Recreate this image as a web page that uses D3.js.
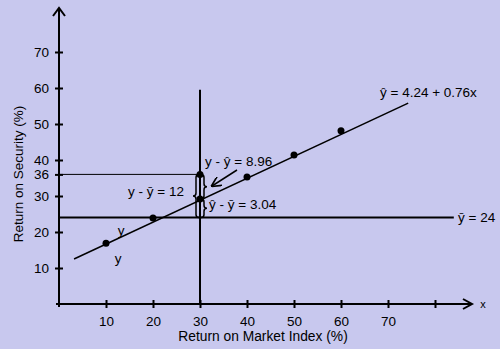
<!DOCTYPE html>
<html lang="en">
  <head>
    <meta charset="utf-8">
    <style type="text/css">
      body { margin: 0; }
      svg {
        background-color: #c8c8ee;
        font-family: "Liberation Sans", Arial, sans-serif;
      }
      path, line { fill: none; stroke: black; }
    </style>
  </head>
  <body>
    <script src="https://cdn.jsdelivr.net/npm/d3@7"></script>
    <svg id="chart"></svg>

    <script type="text/javascript">
// values
var xTicks = [10, 20, 30, 40, 50, 60, 70, 80];
var xTickLabels = ["10", "20", "30", "40", "50", "60", "70", ""];
var yTicks = [10, 20, 30, 36, 40, 50, 60, 70];
var marketX = [10, 20, 30, 40, 50, 60];
var fittedY = [16.9, 23.9, 29.2, 35.3, 41.4, 48.1];
var observedX = [30];
var observedY = [36];
var fitLineX = [3.2, 74.3];
var fitLineY = [12.5, 55.8];
var yMean = 24;
var meanLineX = [0, 84];
var focusX = 30;
var focusTop = 59.5;

var width = 500, height = 349;

var svg = d3.select("#chart")
  .attr("width", width)
  .attr("height", height);

var x = d3.scaleLinear().domain([0, 80]).range([59, 435]);
var y = d3.scaleLinear().domain([0, 70]).range([304, 52]);

// axes
var xAxis = d3.axisBottom(x)
  .tickValues(xTicks)
  .tickFormat(function(d, i) { return xTickLabels[i]; })
  .tickSize(4)
  .tickPadding(8);

var gx = svg.append("g")
  .attr("transform", "translate(0," + y(0) + ")")
  .call(xAxis);
gx.select(".domain").remove();
gx.selectAll(".tick line").attr("y1", -4).attr("stroke-width", 2);
gx.selectAll(".tick text").attr("font-size", 13.5).attr("font-family", "Liberation Sans, Arial, sans-serif");

var yAxis = d3.axisLeft(y)
  .tickValues(yTicks)
  .tickSize(4)
  .tickPadding(6);

var gy = svg.append("g")
  .attr("transform", "translate(" + x(0) + ",0)")
  .call(yAxis);
gy.select(".domain").remove();
gy.selectAll(".tick line").attr("x1", 4).attr("stroke-width", 2);
gy.selectAll(".tick text").attr("font-size", 13.5).attr("font-family", "Liberation Sans, Arial, sans-serif");

// axis lines with open arrow heads
svg.append("line")
  .attr("x1", x(0)).attr("y1", y(0) + 3)
  .attr("x2", x(0)).attr("y2", 8)
  .attr("stroke-width", 2);
svg.append("path")
  .attr("d", "M" + (x(0) - 6) + ",16L" + x(0) + ",8L" + (x(0) + 6) + ",16")
  .attr("stroke-width", 2);

svg.append("line")
  .attr("x1", x(0) - 3).attr("y1", y(0))
  .attr("x2", 472).attr("y2", y(0))
  .attr("stroke-width", 2);
svg.append("path")
  .attr("d", "M463," + (y(0) - 5) + "L472," + y(0) + "L463," + (y(0) + 5))
  .attr("stroke-width", 2);

svg.append("text")
  .attr("x", 483).attr("y", y(0) + 4)
  .attr("text-anchor", "middle")
  .attr("font-size", 11)
  .text("x");

// axis titles
svg.append("text")
  .attr("x", 263).attr("y", 341)
  .attr("text-anchor", "middle")
  .attr("font-size", 13.8)
  .text("Return on Market Index (%)");

svg.append("text")
  .attr("transform", "translate(23,174) rotate(-90)")
  .attr("text-anchor", "middle")
  .attr("font-size", 13.5)
  .text("Return on Security (%)");

// reference lines
svg.append("line")
  .attr("x1", x(focusX)).attr("y1", y(0))
  .attr("x2", x(focusX)).attr("y2", y(focusTop))
  .attr("stroke-width", 2);

svg.append("line")
  .attr("x1", x(meanLineX[0])).attr("y1", y(yMean))
  .attr("x2", x(meanLineX[1])).attr("y2", y(yMean))
  .attr("stroke-width", 2);

svg.append("line")
  .attr("x1", x(0)).attr("y1", y(observedY[0]))
  .attr("x2", x(observedX[0])).attr("y2", y(observedY[0]))
  .attr("stroke-width", 1);

// regression line
var line = d3.line()
  .x(function(d) { return x(d[0]); })
  .y(function(d) { return y(d[1]); });

svg.append("path")
  .datum(d3.zip(fitLineX, fitLineY))
  .attr("d", line)
  .attr("stroke-width", 1.5);

// braces at x = 30
function brace(x0, ya, yb, d) {
  var w = 3, q = 3, mid = (ya + yb) / 2;
  return "M" + x0 + "," + ya +
    "Q" + (x0 + d * w) + "," + ya + " " + (x0 + d * w) + "," + (ya + q) +
    "L" + (x0 + d * w) + "," + (mid - q) +
    "Q" + (x0 + d * w) + "," + mid + " " + (x0 + 2 * d * w) + "," + mid +
    "Q" + (x0 + d * w) + "," + mid + " " + (x0 + d * w) + "," + (mid + q) +
    "L" + (x0 + d * w) + "," + (yb - q) +
    "Q" + (x0 + d * w) + "," + yb + " " + x0 + "," + yb;
}
var fx = x(focusX);
svg.append("path")
  .attr("d", brace(fx - 1, y(observedY[0]), y(yMean), -1))
  .attr("stroke-width", 1.5);
svg.append("path")
  .attr("d", brace(fx + 1, y(observedY[0]), y(fittedY[2]), 1))
  .attr("stroke-width", 1.5);
svg.append("path")
  .attr("d", brace(fx + 1, y(fittedY[2]), y(yMean), 1))
  .attr("stroke-width", 1.5);

// points
svg.append("g").selectAll("circle")
  .data(d3.zip(marketX.concat(observedX), fittedY.concat(observedY)))
  .enter()
  .append("circle")
  .attr("cx", function(d) { return x(d[0]); })
  .attr("cy", function(d) { return y(d[1]); })
  .attr("r", 3.5)
  .attr("fill", "black");

// arrow pointing at the residual
svg.append("defs").append("marker")
  .attr("id", "head")
  .attr("viewBox", "0 0 10 10")
  .attr("refX", 9).attr("refY", 5)
  .attr("markerWidth", 7).attr("markerHeight", 7)
  .attr("orient", "auto-start-reverse")
  .append("path")
  .attr("d", "M0,0L10,5L0,10")
  .attr("stroke-width", 1.6);

svg.append("line")
  .attr("x1", 237).attr("y1", 170)
  .attr("x2", 212).attr("y2", 186)
  .attr("stroke-width", 1.5)
  .attr("marker-end", "url(#head)");

// annotations
var notes = [
  { x: 380, y: 97, t: "\u0177 = 4.24 + 0.76x" },
  { x: 205, y: 166, t: "y - \u0177 = 8.96" },
  { x: 128, y: 196, t: "y - \u0233 = 12" },
  { x: 209, y: 209, t: "\u0177 - \u0233 = 3.04" },
  { x: 458, y: 222, t: "\u0233 = 24" }
];
svg.append("g").selectAll("text")
  .data(notes)
  .enter()
  .append("text")
  .attr("x", function(d) { return d.x; })
  .attr("y", function(d) { return d.y; })
  .attr("font-size", 13.5)
  .text(function(d) { return d.t; });

svg.append("text")
  .attr("x", 121).attr("y", 235)
  .attr("text-anchor", "middle")
  .attr("font-size", 13.5)
  .text("y");
svg.append("text")
  .attr("x", 118).attr("y", 263)
  .attr("text-anchor", "middle")
  .attr("font-size", 13.5)
  .text("y");
    </script>
  </body>
</html>
